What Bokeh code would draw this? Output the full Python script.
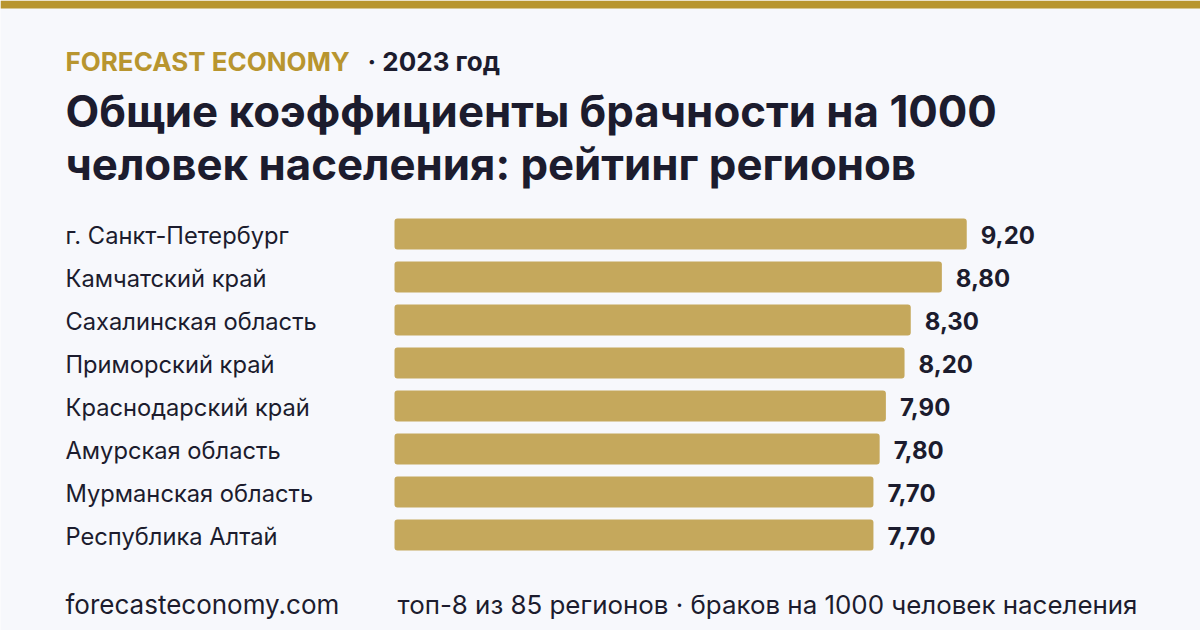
from bokeh.plotting import figure
from bokeh.models import Range1d, Label, BoxAnnotation, ColumnDataSource
from bokeh.core.properties import value
from bokeh.embed import file_html
from bokeh.resources import INLINE

# Marriage rate per 1000 population, 2023, top-8 regions
regions = [
    "г. Санкт-Петербург",
    "Камчатский край",
    "Сахалинская область",
    "Приморский край",
    "Краснодарский край",
    "Амурская область",
    "Мурманская область",
    "Республика Алтай",
]
rates = [9.20, 8.80, 8.30, 8.20, 7.90, 7.80, 7.70, 7.70]

brand = "FORECAST ECONOMY"
year_note = "· 2023 год"
title_lines = [
    "Общие коэффициенты брачности на 1000",
    "человек населения: рейтинг регионов",
]
site = "forecasteconomy.com"
footnote = "топ-8 из 85 регионов · браков на 1000 человек населения"

W, H = 1200, 630
BG = "#f7f8fc"
GOLD = "#b8952f"
BAR = "#c5a85c"
INK = "#1c1c2e"
FONT = "Inter"

# pixel geometry of the bar area
bar_x0 = 394          # where zero sits
px_per_unit = 62.2    # horizontal scale
row0 = 233.5          # centre of first row
row_step = 43.0       # distance between rows

x_range = Range1d(-bar_x0 / px_per_unit, (W - bar_x0) / px_per_unit)
y_range = Range1d((H - row0) / row_step, -row0 / row_step)

p = figure(
    width=W, height=H,
    x_range=x_range, y_range=y_range,
    output_backend="svg", toolbar_location=None,
    x_axis_location=None, y_axis_location=None,
    title_location=None, min_border=0,
    background_fill_color=BG, border_fill_color=BG,
)
p.outline_line_color = None
p.grid.visible = False

src = ColumnDataSource(dict(
    idx=list(range(len(regions))),
    region=regions,
    rate=rates,
    label=[f"{v:.2f}".replace(".", ",") for v in rates],
))

p.hbar(y="idx", left=0, right="rate", height=31 / row_step, source=src,
       fill_color=BAR, line_color=None, border_radius=3)

p.text(x=0, y="idx", text="region", source=src, x_offset=-329, y_offset=1,
       text_align="left", text_baseline="middle",
       text_font=value(FONT), text_font_size="23.7px", text_color=INK)

p.text(x="rate", y="idx", text="label", source=src, x_offset=14, y_offset=1,
       text_align="left", text_baseline="middle",
       text_font=value(FONT), text_font_size="24px", text_font_style="bold",
       text_color=INK)

# top accent stripe
p.add_layout(BoxAnnotation(bottom=H - 8, bottom_units="screen",
                           fill_color=GOLD, fill_alpha=1, line_color=None))


def add_text(x, baseline, text, size, color, bold=False):
    # Label anchors a little below the glyph baseline; compensate by 0.4em
    p.add_layout(Label(x=x, y=H - baseline + 0.4 * size,
                       x_units="screen", y_units="screen",
                       text=text, text_font=FONT, text_font_size=f"{size}px",
                       text_font_style="bold" if bold else "normal",
                       text_color=color, text_baseline="alphabetic",
                       text_align="left"))


add_text(65, 71, brand, 26, GOLD, bold=True)
add_text(367, 71, year_note, 26, INK, bold=True)
add_text(65, 129, title_lines[0], 43.8, INK, bold=True)
add_text(65, 182, title_lines[1], 43.8, INK, bold=True)
add_text(65, 614, site, 26, INK)
add_text(397, 614, footnote, 25.9, INK)

open("out.html", "w").write(file_html(p, INLINE))
